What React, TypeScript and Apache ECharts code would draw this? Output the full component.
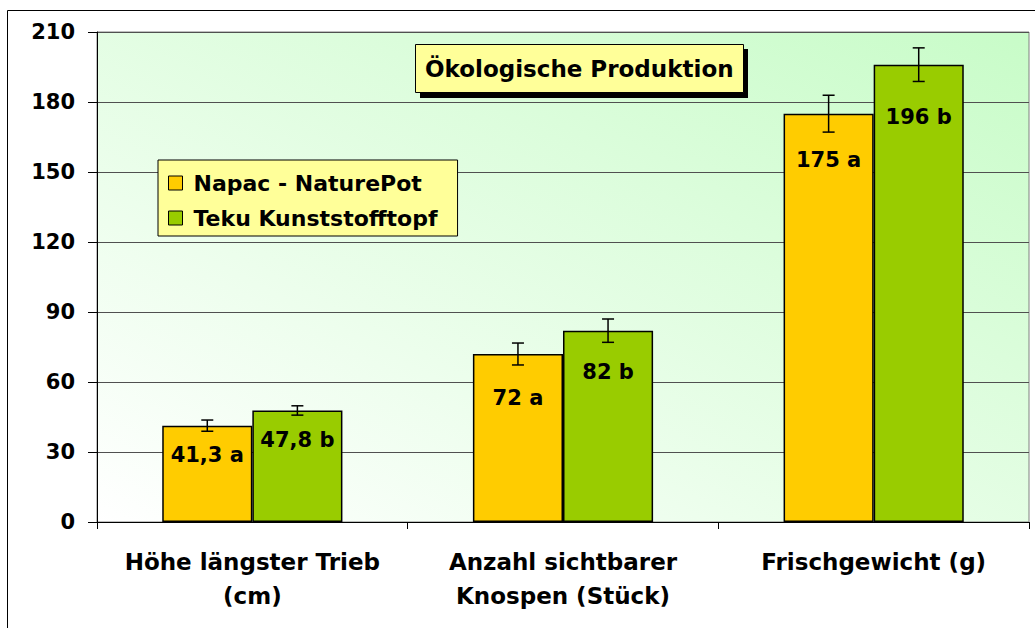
import React, { useEffect, useRef } from "react";
import * as echarts from "echarts";

const categories = ["Höhe längster Trieb\n(cm)", "Anzahl sichtbarer\nKnospen (Stück)", "Frischgewicht (g)"];
const seriesNames = ["Napac - NaturePot", "Teku Kunststofftopf"];
const napacValues = [41.3, 72, 175];
const tekuValues = [47.8, 82, 196];
const napacErrors = [2.4, 4.7, 7.9];
const tekuErrors = [2.0, 5.0, 7.2];
const napacLabels = ["41,3 a", "72 a", "175 a"];
const tekuLabels = ["47,8 b", "82 b", "196 b"];
const yMin = 0;
const yMax = 210;
const yInterval = 30;
const titleText = "Ökologische Produktion";

const FONT = "DejaVu Sans";
const CAT_GAP = 0.42;

export default function App() {
  const ref = useRef<HTMLDivElement>(null);
  useEffect(() => {
    if (!ref.current) return;
    const chart = echarts.init(ref.current, undefined, { renderer: "svg" });

    const napacDist = [19, 33, 36];
    const tekuDist = [19, 31, 42];

    const makeBar = (name: string, values: number[], labels: string[], color: string, dist: number[]) => ({
      type: "bar",
      name,
      barGap: "0%",
      barCategoryGap: `${CAT_GAP * 100}%`,
      itemStyle: { color, borderColor: "#000", borderWidth: 1.5 },
      z: 2,
      data: values.map((v, i) => ({
        value: v,
        label: { distance: dist[i] },
      })),
      label: {
        show: true,
        position: "insideTop",
        formatter: (p: any) => labels[p.dataIndex],
        fontFamily: FONT,
        fontSize: 21,
        fontWeight: "bold",
        color: "#000",
      },
    });

    const makeErr = (name: string, values: number[], errs: number[], side: number) => ({
      type: "custom",
      name,
      z: 5,
      silent: true,
      data: values.map((v, i) => [i, v, errs[i]]),
      encode: { x: 0, y: 1 },
      renderItem: (_params: any, api: any) => {
        const i = api.value(0);
        const v = api.value(1);
        const e = api.value(2);
        const hi = api.coord([i, v + e]);
        const lo = api.coord([i, v - e]);
        const band = api.size([1, 0])[0];
        const barW = (band * (1 - CAT_GAP)) / 2;
        const x = hi[0] + (side * barW) / 2;
        const cap = 6;
        const style = { stroke: "#000", lineWidth: 1.5 };
        return {
          type: "group",
          children: [
            { type: "line", shape: { x1: x, y1: hi[1], x2: x, y2: lo[1] }, style },
            { type: "line", shape: { x1: x - cap, y1: hi[1], x2: x + cap, y2: hi[1] }, style },
            { type: "line", shape: { x1: x - cap, y1: lo[1], x2: x + cap, y2: lo[1] }, style },
          ],
        };
      },
    });

    chart.setOption({
      animation: false,
      backgroundColor: "#ffffff",
      title: {
        text: titleText,
        left: 415,
        top: 44,
        padding: [10, 10],
        backgroundColor: "#ffff99",
        borderColor: "#000",
        borderWidth: 1,
        z: 10,
        textStyle: {
          fontFamily: FONT,
          fontSize: 23,
          fontWeight: "bold",
          color: "#000",
          lineHeight: 29,
        },
      },
      legend: {
        data: seriesNames,
        orient: "vertical",
        left: 158,
        top: 160,
        padding: [10, 20, 5, 10],
        itemGap: 9,
        itemWidth: 14,
        itemHeight: 14,
        icon: "rect",
        backgroundColor: "#ffff99",
        borderColor: "#000",
        borderWidth: 1,
        z: 10,
        itemStyle: { borderColor: "#000", borderWidth: 1 },
        textStyle: {
          fontFamily: FONT,
          fontSize: 22,
          fontWeight: "bold",
          color: "#000",
          lineHeight: 26,
          padding: [0, 0, 0, 6],
        },
      },
      grid: {
        left: 97,
        top: 32,
        right: 6,
        bottom: 106,
        show: true,
        borderColor: "#808080",
        borderWidth: 1,
        backgroundColor: new echarts.graphic.LinearGradient(0, 1, 1, 0, [
          { offset: 0, color: "#ffffff" },
          { offset: 1, color: "#c8fcc8" },
        ]),
      },
      xAxis: {
        type: "category",
        data: categories,
        axisLine: { show: true, lineStyle: { color: "#000", width: 1 } },
        axisTick: { show: true, length: 7, lineStyle: { color: "#000" } },
        axisLabel: {
          margin: 23,
          fontFamily: FONT,
          fontSize: 23,
          fontWeight: "bold",
          color: "#000",
          lineHeight: 34,
          interval: 0,
        },
      },
      yAxis: {
        type: "value",
        min: yMin,
        max: yMax,
        interval: yInterval,
        axisLine: { show: true, lineStyle: { color: "#000", width: 1 } },
        axisTick: { show: true, length: 9, lineStyle: { color: "#000" } },
        splitLine: { show: true, lineStyle: { color: "#505050", width: 1 } },
        axisLabel: {
          margin: 22,
          fontFamily: FONT,
          fontSize: 21,
          fontWeight: "bold",
          color: "#000",
        },
      },
      graphic: [
        {
          type: "rect",
          z: 5,
          shape: { x: 420, y: 49, width: 328, height: 49 },
          style: { fill: "#000" },
        },
        {
          type: "rect",
          z: 100,
          silent: true,
          shape: { x: 7.5, y: 10.5, width: 1060, height: 660 },
          style: { fill: "none", stroke: "#000", lineWidth: 1 },
        },
      ],
      series: [
        makeBar(seriesNames[0], napacValues, napacLabels, "#ffcc00", napacDist),
        makeBar(seriesNames[1], tekuValues, tekuLabels, "#99cc00", tekuDist),
        makeErr("err-napac", napacValues, napacErrors, -1),
        makeErr("err-teku", tekuValues, tekuErrors, 1),
      ],
    });
    return () => chart.dispose();
  }, []);
  return (
    <div
      ref={ref}
      style={{ position: "absolute", left: 0, top: 0, width: 1035, height: 628 }}
    />
  );
}
